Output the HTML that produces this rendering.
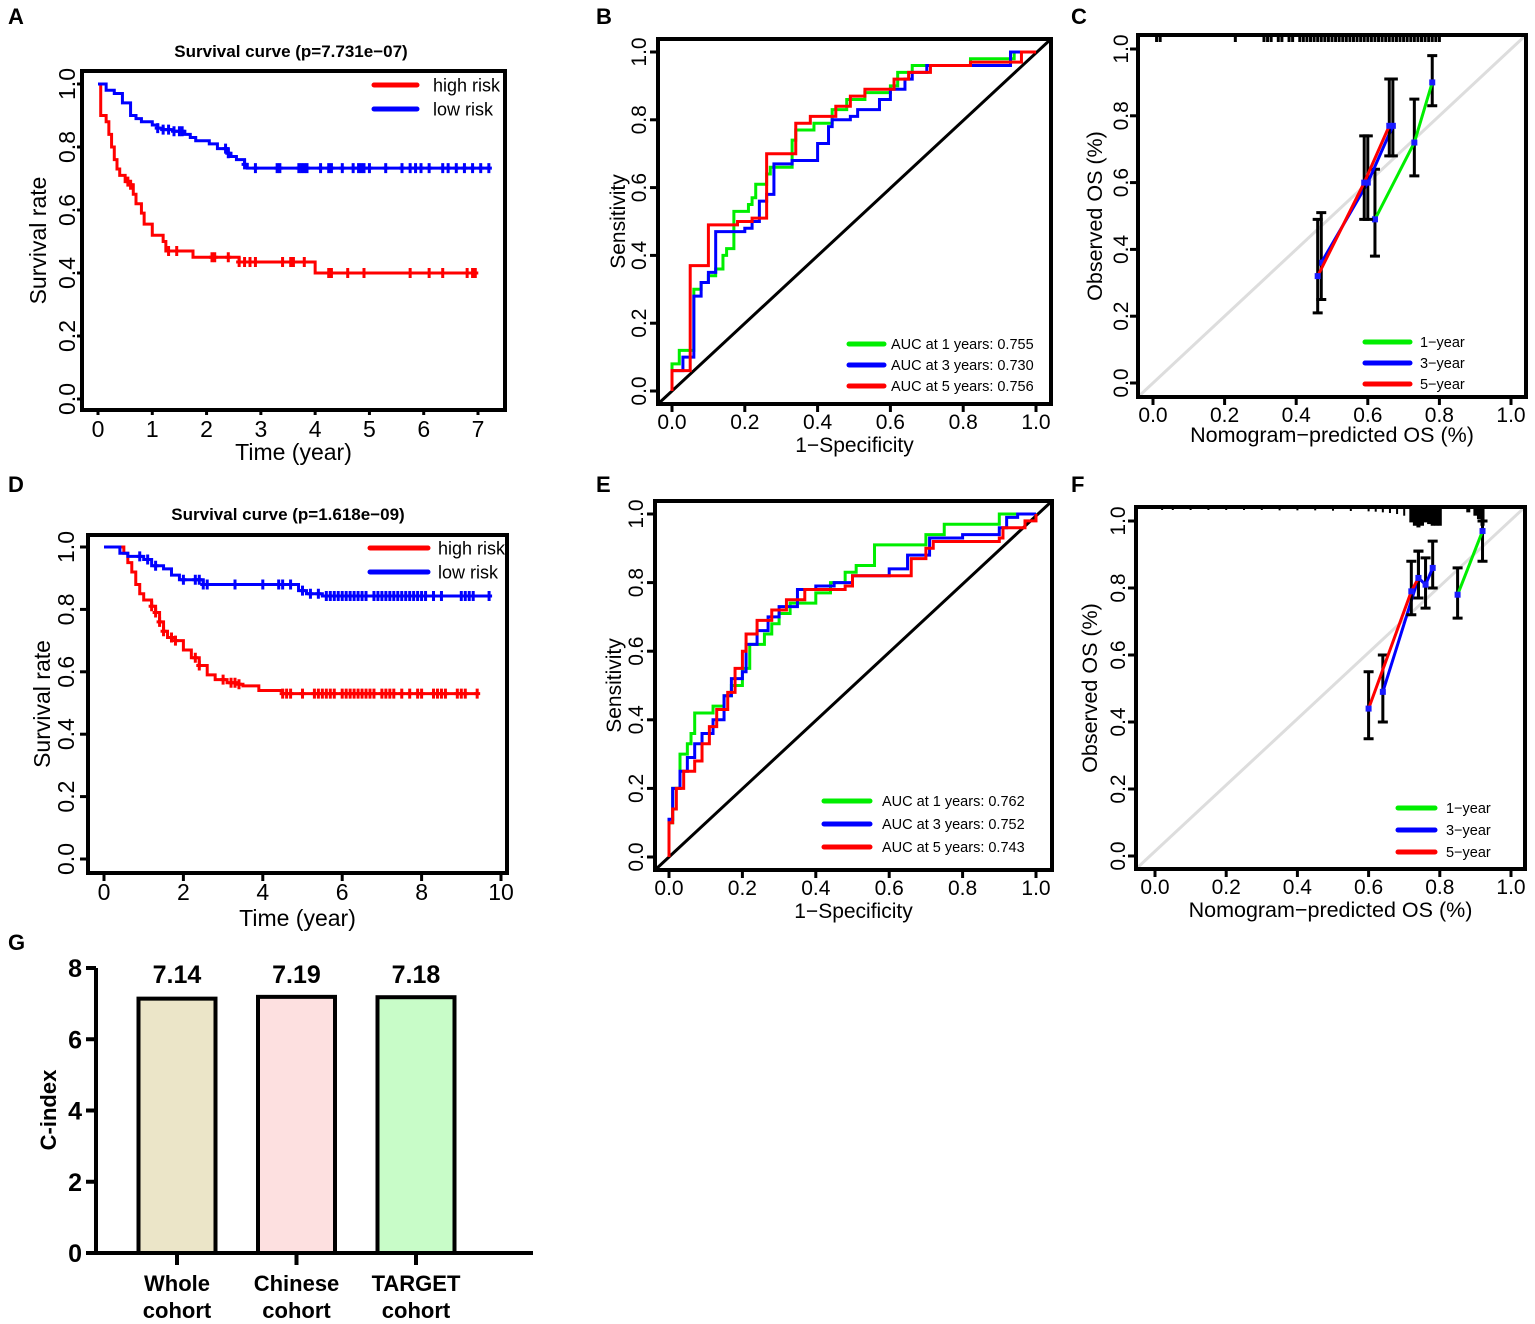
<!DOCTYPE html>
<html><head><meta charset="utf-8">
<style>
html,body{margin:0;padding:0;background:#fff;}
svg{display:block;font-family:"Liberation Sans",Arial,sans-serif;}
</style></head>
<body>
<svg id="fig" width="1535" height="1324" viewBox="0 0 1535 1324" xmlns="http://www.w3.org/2000/svg">
<rect width="1535" height="1324" fill="#fff"/>
<g font-weight="bold" font-size="22" fill="#000">
<text x="8" y="24">A</text>
<text x="596" y="24">B</text>
<text x="1071" y="24">C</text>
<text x="8" y="492">D</text>
<text x="596" y="492">E</text>
<text x="1071" y="492">F</text>
<text x="8" y="950">G</text>
</g>
</svg>
<script>
// ---------- DATA ----------
const aHighSteps = [[0,1],[0.05,0.9],[0.15,0.88],[0.2,0.84],[0.25,0.8],[0.3,0.76],[0.35,0.73],[0.4,0.71],[0.5,0.69],[0.6,0.68],[0.65,0.65],[0.7,0.62],[0.8,0.59],[0.85,0.555],[1.0,0.52],[1.2,0.5],[1.25,0.47],[1.75,0.45],[2.6,0.435],[4.0,0.4]];
const aHighEnd = 6.95;
const aHighCens = [0.55,0.6,1.3,1.45,2.1,2.15,2.4,2.6,2.7,2.8,2.9,3.4,3.55,3.6,3.8,4.25,4.3,4.6,4.9,5.75,6.1,6.35,6.8,6.9,6.95];
const aLowSteps = [[0,1],[0.15,0.98],[0.3,0.97],[0.45,0.94],[0.6,0.9],[0.7,0.89],[0.8,0.88],[1.0,0.87],[1.1,0.86],[1.2,0.855],[1.4,0.85],[1.6,0.84],[1.7,0.83],[1.8,0.82],[2.05,0.81],[2.2,0.795],[2.4,0.78],[2.45,0.77],[2.55,0.76],[2.7,0.745],[2.75,0.733]];
const aLowEnd = 7.2;
const aLowCens = [1.1,1.2,1.3,1.4,1.5,1.55,2.35,2.4,2.7,2.9,3.3,3.35,3.7,3.75,3.8,3.85,4.1,4.25,4.3,4.5,4.7,4.8,4.85,4.9,5.0,5.3,5.6,5.75,5.85,5.95,6.1,6.35,6.45,6.6,6.75,6.9,7.05,7.2];
const dHighSteps = [[0,1],[0.3,1],[0.5,0.98],[0.6,0.95],[0.7,0.92],[0.8,0.88],[0.9,0.85],[1.0,0.83],[1.2,0.81],[1.3,0.79],[1.4,0.76],[1.5,0.73],[1.6,0.71],[1.8,0.7],[2.0,0.67],[2.2,0.645],[2.4,0.62],[2.6,0.59],[2.8,0.575],[3.1,0.565],[3.4,0.56],[3.5,0.555],[3.9,0.54],[4.5,0.53]];
const dHighEnd = 9.4;
const dHighCens = [1.2,1.3,1.4,1.5,1.7,1.8,2.3,2.4,3.0,3.2,3.3,3.4,4.5,4.6,4.7,5.0,5.3,5.4,5.5,5.6,5.7,5.8,6.0,6.1,6.2,6.3,6.4,6.5,6.6,6.7,6.8,7.0,7.1,7.2,7.3,7.5,7.7,7.9,8.0,8.3,8.4,8.5,8.6,8.9,9.0,9.1,9.4];
const dLowSteps = [[0,1],[0.4,0.98],[0.6,0.97],[1.0,0.96],[1.2,0.94],[1.5,0.93],[1.7,0.91],[1.9,0.895],[2.5,0.88],[4.9,0.86],[5.1,0.85],[5.5,0.843]];
const dLowEnd = 9.7;
const dLowCens = [0.9,1.1,1.3,2.0,2.3,2.4,2.5,2.6,3.3,4.0,4.4,4.5,4.7,5.0,5.2,5.4,5.6,5.7,5.8,5.9,6.0,6.1,6.2,6.3,6.4,6.5,6.6,6.8,6.9,7.0,7.1,7.2,7.3,7.4,7.5,7.6,7.7,7.8,7.9,8.0,8.1,8.3,8.5,9.0,9.1,9.2,9.3,9.7];
const bGreen = [[0,0],[0,0.08],[0.02,0.12],[0.05,0.12],[0.06,0.3],[0.08,0.32],[0.1,0.34],[0.12,0.36],[0.14,0.4],[0.15,0.42],[0.17,0.44],[0.17,0.53],[0.21,0.55],[0.22,0.57],[0.23,0.61],[0.26,0.64],[0.27,0.66],[0.33,0.67],[0.33,0.74],[0.34,0.77],[0.39,0.79],[0.44,0.83],[0.48,0.86],[0.53,0.88],[0.6,0.9],[0.62,0.94],[0.66,0.96],[0.82,0.98],[0.94,1],[1,1]];
const bBlue = [[0,0],[0,0.06],[0.03,0.06],[0.03,0.1],[0.05,0.1],[0.06,0.28],[0.08,0.32],[0.1,0.35],[0.12,0.47],[0.2,0.48],[0.22,0.5],[0.24,0.52],[0.24,0.56],[0.26,0.58],[0.28,0.67],[0.33,0.68],[0.4,0.73],[0.43,0.78],[0.44,0.8],[0.49,0.81],[0.51,0.83],[0.57,0.86],[0.6,0.89],[0.64,0.92],[0.66,0.94],[0.7,0.96],[0.93,1],[1,1]];
const bRed = [[0,0],[0,0.06],[0.05,0.06],[0.05,0.37],[0.09,0.37],[0.1,0.49],[0.18,0.5],[0.22,0.51],[0.26,0.7],[0.34,0.79],[0.38,0.81],[0.45,0.84],[0.49,0.87],[0.53,0.89],[0.61,0.92],[0.65,0.94],[0.71,0.96],[0.82,0.97],[0.96,1],[1,1]];
const bLabels = ["AUC at 1 years: 0.755","AUC at 3 years: 0.730","AUC at 5 years: 0.756"];
const eGreen = [[0,0],[0,0.1],[0.01,0.2],[0.03,0.3],[0.05,0.33],[0.06,0.36],[0.07,0.42],[0.12,0.44],[0.15,0.47],[0.17,0.5],[0.2,0.55],[0.22,0.62],[0.26,0.65],[0.28,0.68],[0.3,0.71],[0.33,0.74],[0.4,0.77],[0.44,0.8],[0.48,0.83],[0.51,0.85],[0.56,0.91],[0.7,0.94],[0.75,0.97],[0.9,1],[1,1]];
const eBlue = [[0,0],[0,0.11],[0.01,0.2],[0.03,0.25],[0.05,0.29],[0.07,0.33],[0.09,0.36],[0.12,0.4],[0.15,0.47],[0.17,0.52],[0.2,0.54],[0.21,0.62],[0.24,0.66],[0.27,0.7],[0.3,0.73],[0.35,0.78],[0.4,0.79],[0.45,0.8],[0.5,0.82],[0.6,0.84],[0.65,0.88],[0.71,0.93],[0.8,0.94],[0.9,0.96],[0.92,0.99],[0.95,1],[1,1]];
const eRed = [[0,0],[0,0.1],[0.01,0.14],[0.02,0.2],[0.04,0.25],[0.07,0.28],[0.09,0.33],[0.11,0.38],[0.13,0.43],[0.16,0.48],[0.18,0.55],[0.2,0.6],[0.21,0.65],[0.24,0.69],[0.28,0.72],[0.32,0.75],[0.37,0.78],[0.48,0.79],[0.5,0.82],[0.6,0.82],[0.66,0.87],[0.7,0.9],[0.72,0.92],[0.9,0.93],[0.91,0.96],[0.97,0.98],[1,1]];
const eLabels = ["AUC at 1 years: 0.762","AUC at 3 years: 0.752","AUC at 5 years: 0.743"];
const c1y = [[0.62,0.49,0.38,0.64],[0.73,0.72,0.62,0.85],[0.78,0.9,0.83,0.98]];
const c3y = [[0.47,0.36,0.25,0.51],[0.6,0.6,0.49,0.74],[0.67,0.77,0.68,0.91]];
const c5y = [[0.46,0.32,0.21,0.49],[0.59,0.6,0.49,0.74],[0.66,0.77,0.68,0.91]];
const cRug = [0.01,0.02,0.23,0.31,0.32,0.33,0.35,0.36,0.38,0.39,0.41,0.42,0.43,0.44,0.45,0.46,0.47,0.48,0.49,0.5,0.51,0.52,0.53,0.54,0.55,0.56,0.57,0.58,0.59,0.6,0.61,0.62,0.63,0.64,0.65,0.66,0.67,0.68,0.69,0.7,0.71,0.72,0.73,0.74,0.75,0.76,0.77,0.78,0.79,0.8];
const f1y = [[0.85,0.78,0.71,0.86],[0.92,0.97,0.88,1.0]];
const f3y = [[0.64,0.49,0.4,0.6],[0.74,0.83,0.77,0.91],[0.76,0.81,0.74,0.89],[0.78,0.86,0.8,0.94]];
const f5y = [[0.6,0.44,0.35,0.55],[0.72,0.79,0.72,0.88],[0.74,0.83,0.77,0.91]];
const fRug = [0.02,0.05,0.1,0.15,0.2,0.25,0.3,0.35,0.4,0.45,0.5,0.55,0.6,0.62,0.64,0.66,0.68,0.7,0.72,0.73,0.74,0.75,0.76,0.77,0.78,0.79,0.8,0.88,0.9,0.91,0.92];
const fRugLen = [0.003,0.003,0.003,0.003,0.003,0.003,0.003,0.004,0.004,0.004,0.005,0.006,0.007,0.008,0.01,0.012,0.015,0.02,0.04,0.05,0.055,0.05,0.04,0.045,0.05,0.05,0.05,0.01,0.02,0.03,0.05];
const gCats = [["Whole","cohort"],["Chinese","cohort"],["TARGET","cohort"]];
const gVals = [7.14,7.19,7.18];
const gValLabels = ["7.14","7.19","7.18"];
const gColors = ["#ebe5c8","#fde0e0","#c8fcc8"];
const gTicks = [0,2,4,6,8];

// ---------- HELPERS ----------
const NS="http://www.w3.org/2000/svg";
const svg=document.getElementById('fig');
function mk(tag,attrs,parent,txt){const e=document.createElementNS(NS,tag);for(const k in attrs)e.setAttribute(k,attrs[k]);if(txt!==undefined)e.textContent=txt;(parent||svg).appendChild(e);return e;}
function lin(d0,d1,r0,r1){return v=>r0+(v-d0)*(r1-r0)/(d1-d0);}

function frame(g,box,xs,ys,xt,yt,xl,yl,xDecimals,yTitleX,xTitleY,tfs,afs,yTickX,tickLen){
  const r=mk('rect',{x:box[0],y:box[1],width:box[2]-box[0],height:box[3]-box[1],fill:'none',stroke:'#000','stroke-width':4},g);
  
  
  xt.forEach(v=>{const x=xs(v);
    const t=mk('line',{x1:x,x2:x,y1:box[3],y2:box[3]+tickLen,stroke:'#000','stroke-width':3},g);
    
    
    const l=mk('text',{x:x,y:box[3]+tfs+4,'font-size':tfs,'text-anchor':'middle'},g,xDecimals?v.toFixed(1):String(v));
    
    
  });
  yt.forEach(v=>{const y=ys(v);
    const t=mk('line',{x1:box[0],x2:box[0]-tickLen,y1:y,y2:y,stroke:'#000','stroke-width':3},g);
    
    
    const l=mk('text',{x:0,y:0,'font-size':tfs,'text-anchor':'middle',transform:`translate(${yTickX},${y}) rotate(-90)`},g,v.toFixed(1));
    
    
  });
  const xtl=mk('text',{x:(box[0]+box[2])/2,y:xTitleY,'font-size':afs,'text-anchor':'middle'},g,xl);
  
  
  const ytl=mk('text',{x:0,y:0,'font-size':afs,'text-anchor':'middle',transform:`translate(${yTitleX},${(box[1]+box[3])/2}) rotate(-90)`},g,yl);
  
  
}

function km(g,xs,ys,steps,end,cens,color,name){
  let d=`M${xs(steps[0][0])},${ys(steps[0][1])}`;
  for(let i=1;i<steps.length;i++){d+=` H${xs(steps[i][0])} V${ys(steps[i][1])}`;}
  d+=` H${xs(end)}`;
  const p=mk('path',{d:d,fill:'none',stroke:color,'stroke-width':3},g);
  
  
  function survAt(t){let s=steps[0][1];steps.forEach(st=>{if(st[0]<=t)s=st[1];});return s;}
  cens.forEach(t=>{const x=xs(t),y=ys(survAt(t));
    const c=mk('path',{d:`M${x},${y-5} V${y+5} M${x-3},${y} H${x+3}`,stroke:color,'stroke-width':3},g);
    
    
  });
}

function roc(g,xs,ys,pts,color,name){
  let d=`M${xs(pts[0][0])},${ys(pts[0][1])}`;
  for(let i=1;i<pts.length;i++){d+=` H${xs(pts[i][0])} V${ys(pts[i][1])}`;}
  const p=mk('path',{d:d,fill:'none',stroke:color,'stroke-width':3},g);
  
  
}

function legend(g,x1,x2,tx,y0,dy,colors,labels,fs,lw){
  labels.forEach((lb,i)=>{const y=y0+i*dy;
    const l=mk('line',{x1:x1,x2:x2,y1:y,y2:y,stroke:colors[i],'stroke-width':lw,'stroke-linecap':'round'},g);
    
    
    const t=mk('text',{x:tx,y:y+fs*0.36,'font-size':fs},g,lb);
    
    
  });
}

function calib(g,xs,ys,pts,color,name){
  let d='';pts.forEach((p,i)=>{d+=(i?' L':'M')+xs(p[0])+','+ys(p[1]);});
  pts.forEach(p=>{const x=xs(p[0]);
    const e=mk('path',{d:`M${x},${ys(p[2])} V${ys(p[3])} M${x-5},${ys(p[2])} H${x+5} M${x-5},${ys(p[3])} H${x+5}`,stroke:'#000','stroke-width':3,fill:'none'},g);
    
    
  });
  const l=mk('path',{d:d,fill:'none',stroke:color,'stroke-width':3},g);
  
  
  pts.forEach(p=>{const m=mk('rect',{x:xs(p[0])-3,y:ys(p[1])-3,width:6,height:6,fill:'#1a1aff'},g);
    
    
  });
}

const ticks01=[0,0.2,0.4,0.6,0.8,1.0];

// ---------- PANEL A ----------
{const g=mk('g',{});
const box=[82,71,505,410];const xs=lin(0,7,98,478),ys=lin(0,1,399,84);
mk('text',{x:291,y:57,'font-size':17,'font-weight':'bold','text-anchor':'middle',},g,'Survival curve (p=7.731e\u221207)');
km(g,xs,ys,aHighSteps,aHighEnd,aHighCens,'#ff0000','high-risk');
km(g,xs,ys,aLowSteps,aLowEnd,aLowCens,'#0000ff','low-risk');
frame(g,box,xs,ys,[0,1,2,3,4,5,6,7],ticks01,'Time (year)','Survival rate',false,46,460,23,23,75,5);
legend(g,374,417,433,85,24,['#ff0000','#0000ff'],['high risk','low risk'],18,5);}

// ---------- PANEL D ----------
{const g=mk('g',{});
const box=[88,535,507,873];const xs=lin(0,10,104,501),ys=lin(0,1,859,547);
mk('text',{x:288,y:520,'font-size':17,'font-weight':'bold','text-anchor':'middle',},g,'Survival curve (p=1.618e\u221209)');
km(g,xs,ys,dHighSteps,dHighEnd,dHighCens,'#ff0000','high-risk');
km(g,xs,ys,dLowSteps,dLowEnd,dLowCens,'#0000ff','low-risk');
frame(g,box,xs,ys,[0,2,4,6,8,10],ticks01,'Time (year)','Survival rate',false,50,926,23,23,74,8);
legend(g,370,428,438,548,24,['#ff0000','#0000ff'],['high risk','low risk'],18,5);}

// ---------- PANEL B ----------
{const g=mk('g',{});
const box=[658,39,1051,404];const xs=lin(0,1,672,1036),ys=lin(0,1,391,52);
const diag=mk('line',{x1:box[0],y1:box[3],x2:box[2],y2:box[1],stroke:'#000','stroke-width':3},g);


roc(g,xs,ys,bGreen,'#00ee00','roc-1-year');
roc(g,xs,ys,bBlue,'#0000ff','roc-3-year');
roc(g,xs,ys,bRed,'#ff0000','roc-5-year');
frame(g,box,xs,ys,ticks01,ticks01,'1\u2212Specificity','Sensitivity',true,625,452,21,21,646,8);
legend(g,849,884,891,344,21,['#00ee00','#0000ff','#ff0000'],bLabels,14.5,5);}

// ---------- PANEL E ----------
{const g=mk('g',{});
const box=[655,501,1052,870];const xs=lin(0,1,669,1036),ys=lin(0,1,857,514);
const diag=mk('line',{x1:box[0],y1:box[3],x2:box[2],y2:box[1],stroke:'#000','stroke-width':3},g);


roc(g,xs,ys,eGreen,'#00ee00','roc-1-year');
roc(g,xs,ys,eBlue,'#0000ff','roc-3-year');
roc(g,xs,ys,eRed,'#ff0000','roc-5-year');
frame(g,box,xs,ys,ticks01,ticks01,'1\u2212Specificity','Sensitivity',true,621,918,21,21,643,8);
legend(g,824,870,882,801,23,['#00ee00','#0000ff','#ff0000'],eLabels,14.5,5);}

// ---------- PANEL C ----------
{const g=mk('g',{});
const box=[1138,35,1526,397];const xs=lin(0,1,1153,1511),ys=lin(0,1,383,49);
const diag=mk('line',{x1:box[0],y1:box[3],x2:box[2],y2:box[1],stroke:'#dddddd','stroke-width':3},g);


cRug.forEach(v=>{const r=mk('line',{x1:xs(v),x2:xs(v),y1:box[1],y2:box[1]+7,stroke:'#000','stroke-width':3},g);
  
  });
calib(g,xs,ys,c1y,'#00ee00','cal-1-year');
calib(g,xs,ys,c3y,'#0000ff','cal-3-year');
calib(g,xs,ys,c5y,'#ff0000','cal-5-year');
frame(g,box,xs,ys,ticks01,ticks01,'Nomogram\u2212predicted OS (%)','Observed OS (%)',true,1102,442,21,21.5,1128,8);
legend(g,1365,1410,1420,342,21,['#00ee00','#0000ff','#ff0000'],['1\u2212year','3\u2212year','5\u2212year'],14.5,5);}

// ---------- PANEL F ----------
{const g=mk('g',{});
const box=[1136,507,1525,869];const xs=lin(0,1,1155,1511),ys=lin(0,1,856,521);
const diag=mk('line',{x1:box[0],y1:box[3],x2:box[2],y2:box[1],stroke:'#dddddd','stroke-width':3},g);


fRug.forEach((v,i)=>{const r=mk('line',{x1:xs(v),x2:xs(v),y1:box[1],y2:box[1]+fRugLen[i]*335+2,stroke:'#000','stroke-width':v>0.7?4:2},g);
  
  });
calib(g,xs,ys,f1y,'#00ee00','cal-1-year');
calib(g,xs,ys,f3y,'#0000ff','cal-3-year');
calib(g,xs,ys,f5y,'#ff0000','cal-5-year');
frame(g,box,xs,ys,ticks01,ticks01,'Nomogram\u2212predicted OS (%)','Observed OS (%)',true,1097,917,21,21.5,1125,8);
legend(g,1398,1435,1446,808,22,['#00ee00','#0000ff','#ff0000'],['1\u2212year','3\u2212year','5\u2212year'],14.5,5);}

// ---------- PANEL G ----------
{const g=mk('g',{});
const ys=lin(0,8,1253,968);const x0=96,x1=533;
const barW=77;
const cx=i=>177+i*119.5;
gVals.forEach((v,i)=>{const c=cx(i);
  const b=mk('rect',{x:c-barW/2,y:ys(v),width:barW,height:ys(0)-ys(v),fill:gColors[i],stroke:'#000','stroke-width':4},g);
  
  
  const t=mk('text',{x:c,y:983,'font-size':25,'font-weight':'bold','text-anchor':'middle'},g,gValLabels[i]);
  
  
  const tk=mk('line',{x1:c,x2:c,y1:ys(0),y2:ys(0)+12,stroke:'#000','stroke-width':4},g);
  
  
  gCats[i].forEach((w,j)=>{const l=mk('text',{x:c,y:1291+j*27,'font-size':22,'font-weight':'bold','text-anchor':'middle'},g,w);
    
    });
});
const ax=mk('path',{d:`M${x0},${ys(8)} V${ys(0)} M86,${ys(0)} H${x1}`,stroke:'#000','stroke-width':4,fill:'none'},g);


gTicks.forEach(v=>{const y=ys(v);
  const t=mk('line',{x1:x0,x2:x0-10,y1:y,y2:y,stroke:'#000','stroke-width':4},g);
  
  
  const l=mk('text',{x:x0-14,y:y+9,'font-size':25,'font-weight':'bold','text-anchor':'end'},g,String(v));
  
  });
const yt=mk('text',{x:0,y:0,'font-size':22,'font-weight':'bold','text-anchor':'middle',transform:`translate(56,1110) rotate(-90)`},g,'C-index');

}
</script>
</body></html>
